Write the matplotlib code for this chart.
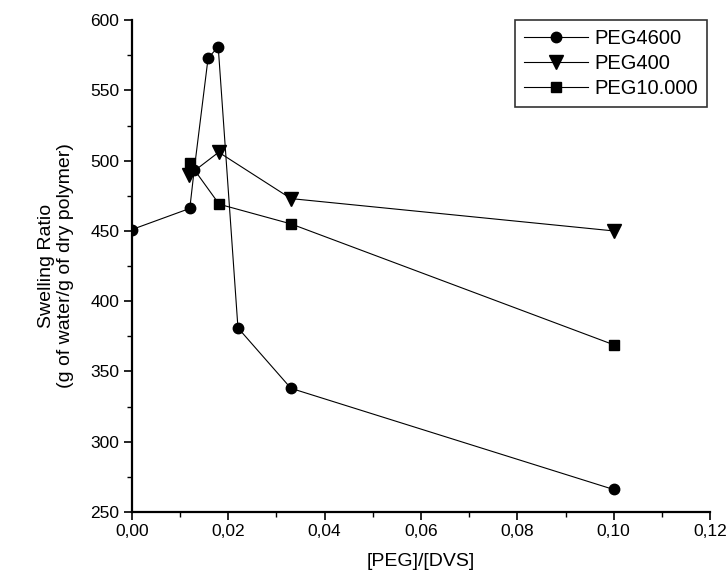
import matplotlib
matplotlib.use("Agg")
import matplotlib.pyplot as plt
from matplotlib.ticker import FuncFormatter, MultipleLocator

plt.rcParams['font.family'] = ['Liberation Sans', 'DejaVu Sans']

x_peg4600 = [0.0, 0.0120, 0.0129, 0.0158, 0.0179, 0.022, 0.033, 0.100]
y_peg4600 = [451, 466, 493, 573, 581, 381, 338, 266]

x_peg400 = [0.0119, 0.0180, 0.033, 0.100]
y_peg400 = [490, 506, 473, 450]

x_peg10000 = [0.0120, 0.0181, 0.033, 0.100]
y_peg10000 = [498, 469, 455, 369]

labels = ["PEG4600", "PEG400", "PEG10.000"]

fig = plt.figure(figsize=(7.26, 5.75), dpi=100)
ax = fig.add_axes([0.1818, 0.1096, 0.978 - 0.1818, 0.965 - 0.1096])

lw = 0.8
ax.plot(x_peg4600, y_peg4600, color='black', lw=lw, marker='o', ms=7.5, label=labels[0])
ax.plot(x_peg400, y_peg400, color='black', lw=lw, marker='v', ms=9.5, label=labels[1])
ax.plot(x_peg10000, y_peg10000, color='black', lw=lw, marker='s', ms=7, label=labels[2])

ax.set_xlim(0, 0.12)
ax.set_ylim(250, 600)
ax.xaxis.set_major_locator(MultipleLocator(0.02))
ax.xaxis.set_minor_locator(MultipleLocator(0.01))
ax.yaxis.set_major_locator(MultipleLocator(50))
ax.yaxis.set_minor_locator(MultipleLocator(25))
ax.xaxis.set_major_formatter(FuncFormatter(lambda v, p: f"{v:.2f}".replace('.', ',')))
ax.yaxis.set_major_formatter(FuncFormatter(lambda v, p: f"{int(round(v))}"))

for s in ['top', 'right']:
    ax.spines[s].set_visible(False)
for s in ['left', 'bottom']:
    ax.spines[s].set_linewidth(1.6)

ax.tick_params(which='major', direction='out', length=6, width=1.2, labelsize=12.5, pad=3)
ax.tick_params(which='minor', direction='out', length=3.5, width=1.0)

ax.set_xlabel("[PEG]/[DVS]", fontsize=14, labelpad=10)
ax.set_ylabel("Swelling Ratio\n(g of water/g of dry polymer)", fontsize=14, labelpad=12, linespacing=1.15)

leg = ax.legend(loc='upper right', bbox_to_anchor=(0.995, 1.0), borderaxespad=0.0,
                fontsize=14.5, frameon=True, fancybox=False, edgecolor='black',
                handlelength=3.2, handletextpad=0.3, borderpad=0.45, labelspacing=0.3)
leg.get_frame().set_linewidth(1.2)

fig.savefig("out.png", dpi=100)
